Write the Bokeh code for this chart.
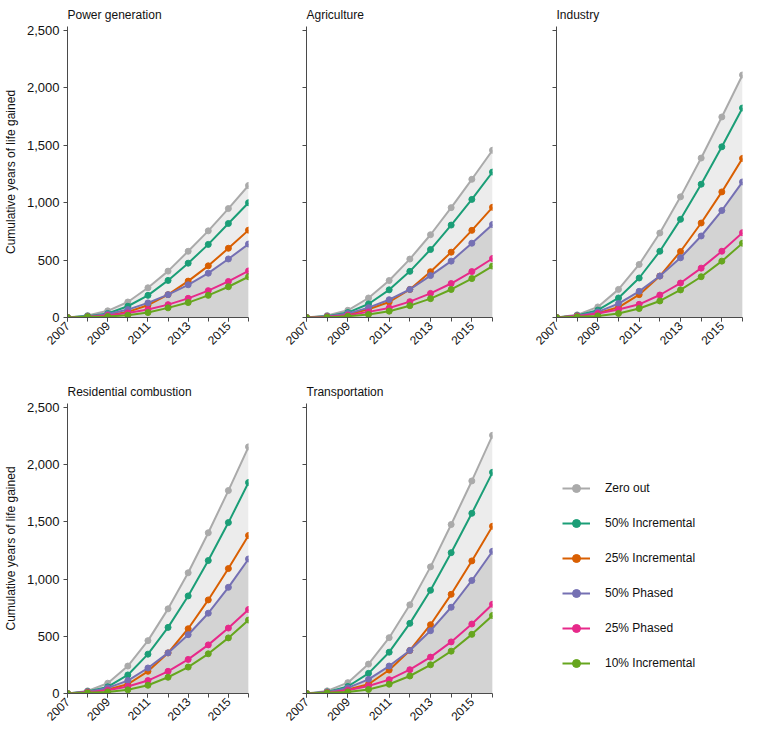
from math import pi
from bokeh.plotting import figure
from bokeh.layouts import row, column
from bokeh.models import (Range1d, FixedTicker, NumeralTickFormatter, CustomJSTickFormatter,
                          Legend, LegendItem)
from bokeh.embed import file_html
from bokeh.resources import INLINE

# ---------------- data ----------------
years = [2007, 2008, 2009, 2010, 2011, 2012, 2013, 2014, 2015, 2016]
odd_year_labels = [2007, 2009, 2011, 2013, 2015]
y_ticks = [0, 500, 1000, 1500, 2000, 2500]

series_names = ["Zero out", "50% Incremental", "25% Incremental",
                "50% Phased", "25% Phased", "10% Incremental"]
series_colors = ["#aaaaaa", "#1b9e77", "#d95f02", "#7570b3", "#e7298a", "#66a61e"]

sectors = ["Power generation", "Agriculture", "Industry",
           "Residential combustion", "Transportation"]

power_zero_out = [0, 17, 58, 135, 259, 404, 577, 755, 949, 1150]
power_inc50 = [0, 12, 35, 98, 193, 323, 473, 637, 819, 1000]
power_inc25 = [0, 6, 20, 49, 107, 199, 317, 450, 603, 761]
power_ph50 = [0, 9, 29, 69, 127, 199, 285, 386, 510, 640]
power_ph25 = [0, 6, 17, 40, 69, 112, 167, 234, 314, 406]
power_inc10 = [0, 6, 9, 20, 43, 84, 130, 193, 268, 355]

agri_zero_out = [0, 17, 63, 170, 322, 509, 721, 957, 1204, 1457]
agri_inc50 = [0, 11, 43, 118, 241, 402, 592, 805, 1029, 1267]
agri_inc25 = [0, 6, 26, 72, 135, 244, 399, 569, 759, 960]
agri_ph50 = [0, 9, 34, 86, 155, 244, 365, 491, 647, 810]
agri_ph25 = [0, 6, 20, 49, 83, 138, 210, 296, 400, 514]
agri_inc10 = [0, 3, 11, 26, 55, 103, 164, 244, 339, 448]

ind_zero_out = [0, 23, 92, 245, 462, 736, 1051, 1389, 1747, 2113]
ind_inc50 = [0, 17, 64, 170, 344, 577, 855, 1161, 1487, 1825]
ind_inc25 = [0, 12, 38, 89, 199, 361, 575, 823, 1094, 1386]
ind_ph50 = [0, 14, 49, 121, 228, 361, 520, 710, 932, 1181]
ind_ph25 = [0, 12, 35, 69, 115, 196, 300, 430, 577, 739]
ind_inc10 = [0, 6, 14, 35, 78, 144, 240, 355, 491, 647]

res_zero_out = [0, 23, 90, 240, 462, 740, 1055, 1405, 1774, 2156]
res_inc50 = [0, 17, 58, 162, 344, 578, 853, 1162, 1494, 1844]
res_inc25 = [0, 12, 35, 81, 194, 355, 566, 818, 1092, 1381]
res_ph50 = [0, 14, 49, 113, 223, 355, 514, 702, 928, 1176]
res_ph25 = [0, 12, 29, 61, 113, 194, 298, 425, 572, 734]
res_inc10 = [0, 6, 14, 32, 72, 142, 231, 347, 486, 642]

trans_zero_out = [0, 23, 95, 257, 488, 775, 1107, 1477, 1858, 2257]
trans_inc50 = [0, 14, 61, 176, 361, 613, 902, 1231, 1575, 1933]
trans_inc25 = [0, 9, 35, 81, 205, 376, 601, 867, 1159, 1462]
trans_ph50 = [0, 12, 49, 124, 240, 376, 549, 754, 988, 1243]
trans_ph25 = [0, 9, 29, 66, 121, 208, 318, 451, 607, 780]
trans_inc10 = [0, 6, 14, 35, 81, 153, 251, 370, 517, 682]

sector_data = [
    [power_zero_out, power_inc50, power_inc25, power_ph50, power_ph25, power_inc10],
    [agri_zero_out, agri_inc50, agri_inc25, agri_ph50, agri_ph25, agri_inc10],
    [ind_zero_out, ind_inc50, ind_inc25, ind_ph50, ind_ph25, ind_inc10],
    [res_zero_out, res_inc50, res_inc25, res_ph50, res_ph25, res_inc10],
    [trans_zero_out, trans_inc50, trans_inc25, trans_ph50, trans_ph25, trans_inc10],
]

# ---------------- style ----------------
FONT = "Liberation Sans"
AX = "#4a4a4a"
FW, FH = 186, 293
LIGHT_FILL = "#ececec"
DARK_FILL = "#d3d3d3"


def make_panel(title, data, left, right, top, bottom, first_col):
    p = figure(width=left + FW + right, height=top + FH + bottom,
               x_range=Range1d(2007, 2016), y_range=Range1d(0, 2535),
               output_backend="svg", toolbar_location=None,
               min_border_left=left, min_border_right=right,
               min_border_top=top, min_border_bottom=bottom,
               title=title)
    p.outline_line_color = None
    p.grid.visible = False
    p.background_fill_color = "white"
    p.border_fill_color = "white"

    p.title.text_font = FONT
    p.title.text_font_size = "12px"
    p.title.text_font_style = "normal"
    p.title.text_color = "#111111"
    p.title.align = "left"
    p.title.standoff = 10

    p.varea(x=years, y1=0, y2=data[0], fill_color=LIGHT_FILL)
    p.varea(x=years, y1=0, y2=data[3], fill_color=DARK_FILL)

    for vals, c in zip(data, series_colors):
        p.line(x=years, y=vals, line_color=c, line_width=2)
        p.scatter(x=years, y=vals, size=6, fill_color=c, line_color=c)

    xa = p.xaxis[0]
    xa.ticker = FixedTicker(ticks=odd_year_labels, minor_ticks=years)
    xa.major_label_orientation = pi / 4
    xa.major_tick_in = 0
    xa.major_tick_out = 4
    xa.minor_tick_in = 0
    xa.minor_tick_out = 4
    xa.axis_line_color = AX
    xa.major_tick_line_color = AX
    xa.minor_tick_line_color = AX
    xa.major_label_text_font = FONT
    xa.major_label_text_font_size = "12px"
    xa.major_label_text_color = "#111111"
    xa.major_label_standoff = 2

    ya = p.yaxis[0]
    ya.ticker = FixedTicker(ticks=y_ticks, minor_ticks=[])
    ya.major_tick_in = 0
    ya.major_tick_out = 4
    ya.axis_line_color = AX
    ya.major_tick_line_color = AX
    ya.major_label_text_font = FONT
    ya.major_label_text_font_size = "13px"
    ya.major_label_text_color = "#111111"
    ya.major_label_standoff = 4
    if first_col:
        ya.formatter = NumeralTickFormatter(format="0,0")
        ya.axis_label = "Cumulative years of life gained"
        ya.axis_label_text_font = FONT
        ya.axis_label_text_font_size = "12px"
        ya.axis_label_text_font_style = "normal"
        ya.axis_label_text_color = "#111111"
        ya.axis_label_standoff = 6
    else:
        ya.formatter = CustomJSTickFormatter(code="return ''")
    return p


# column geometry: (left border, right border); row geometry: (top, bottom)
cols = [(62, 6), (52, 4), (60, 4)]
rows_geo = [(24, 42), (44, 31)]

f1 = make_panel(sectors[0], sector_data[0], cols[0][0], cols[0][1], rows_geo[0][0], rows_geo[0][1], True)
f2 = make_panel(sectors[1], sector_data[1], cols[1][0], cols[1][1], rows_geo[0][0], rows_geo[0][1], False)
f3 = make_panel(sectors[2], sector_data[2], cols[2][0], cols[2][1], rows_geo[0][0], rows_geo[0][1], False)
f4 = make_panel(sectors[3], sector_data[3], cols[0][0], cols[0][1], rows_geo[1][0], rows_geo[1][1], True)
f5 = make_panel(sectors[4], sector_data[4], cols[1][0], cols[1][1], rows_geo[1][0], rows_geo[1][1], False)

# legend panel (legend renderers hold points outside the visible range)
lw = cols[2][0] + FW + cols[2][1]
lh = rows_geo[1][0] + FH + rows_geo[1][1]
lf = figure(width=lw, height=lh, x_range=Range1d(0, 1), y_range=Range1d(0, 1),
            output_backend="svg", toolbar_location=None, min_border=0,
            x_axis_location=None, y_axis_location=None)
lf.outline_line_color = None
lf.grid.visible = False
items = []
for name, c in zip(series_names, series_colors):
    r1 = lf.line(x=[-10, -9], y=[-10, -10], line_color=c, line_width=2)
    r2 = lf.scatter(x=[-10], y=[-10], size=9, fill_color=c, line_color=c)
    items.append(LegendItem(label=name, renderers=[r1, r2]))
leg = Legend(items=items, location=(66, 20), glyph_width=28, glyph_height=20,
             label_height=20, spacing=15, label_standoff=15, margin=0, padding=0,
             border_line_color=None, background_fill_alpha=0,
             label_text_font=FONT, label_text_font_size="12px",
             label_text_color="#111111")
lf.add_layout(leg)

layout = column(row(f1, f2, f3), row(f4, f5, lf))

with open("out.html", "w") as fh:
    fh.write(file_html(layout, INLINE))
